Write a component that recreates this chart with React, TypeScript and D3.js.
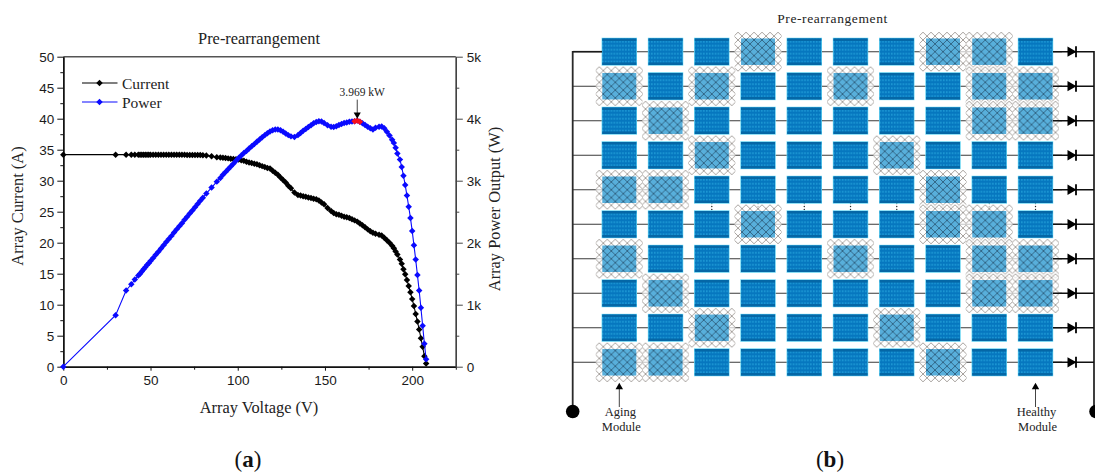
import React, { useEffect, useRef } from 'react';
import * as d3 from 'd3';

// --- panel (a) data ---
const voltage = [
  0, 30, 36, 39, 41, 43, 44, 45, 46, 47,
  48, 49, 50, 51.5, 53, 54.5, 56, 57.5, 59, 60.5,
  62, 63.5, 65, 66.5, 68, 69.5, 71, 72.5, 74, 75.5,
  77, 78.5, 80, 82, 85, 88, 90, 91.5, 93, 94.5,
  96, 97.5, 99, 100.5, 102, 103.5, 105, 106.5, 108, 109.5,
  111, 112.5, 114, 115.5, 117, 118.5, 120, 121.5, 123, 124.5,
  126, 127.5, 129, 130.5, 132.5, 134.5, 136, 137.5, 139, 140.5,
  142, 143.5, 145, 146.5, 148, 149.5, 151.5, 153.5, 155, 156.5,
  158, 159.5, 161, 162.5, 164, 165.5, 167, 168.5, 170, 171.5,
  173, 174.5, 176, 177.5, 179, 181, 182.5, 184, 185.5, 187,
  188.5, 189.5, 190.5, 191.5, 193, 194, 195, 196, 197, 198,
  199, 200, 201, 202, 203, 204, 205, 206, 207, 208,
];
const arrayCurrent = [
  34.2, 34.2, 34.2, 34.2, 34.2, 34.2, 34.2, 34.2, 34.2, 34.2,
  34.2, 34.2, 34.2, 34.2, 34.2, 34.2, 34.2, 34.2, 34.2, 34.2,
  34.2, 34.2, 34.2, 34.2, 34.2, 34.2, 34.15, 34.15, 34.15, 34.15,
  34.15, 34.15, 34.1, 34.05, 33.95, 33.8, 33.75, 33.7, 33.65, 33.6,
  33.55, 33.5, 33.45, 33.4, 33.3, 33.2, 33.05, 32.95, 32.85, 32.75,
  32.65, 32.5, 32.35, 32.2, 32.05, 31.95, 31.6, 31.3, 30.95, 30.5,
  30.1, 29.7, 29.2, 28.8, 28.1, 27.7, 27.6, 27.5, 27.4, 27.3,
  27.2, 27.1, 27.0, 26.8, 26.5, 26.2, 25.6, 25.1, 24.8, 24.6,
  24.5, 24.35, 24.2, 24.1, 24.0, 23.8, 23.6, 23.4, 23.1, 22.8,
  22.5, 22.15, 21.85, 21.6, 21.45, 21.3, 21.15, 20.8, 20.4, 20.0,
  19.5, 19.1, 18.6, 18.1, 17.3, 16.6, 15.7, 14.9, 14, 13,
  12, 10.9, 9.8, 8.5, 7.3, 6, 4.6, 3.2, 1.7, 0.5,
];
const arrayPower = [
  0, 830, 1230, 1330, 1405, 1470, 1500, 1535, 1570, 1605,
  1640, 1670, 1705, 1755, 1805, 1855, 1905, 1960, 2010, 2060,
  2110, 2165, 2215, 2265, 2315, 2370, 2420, 2470, 2520, 2570,
  2625, 2675, 2725, 2795, 2890, 2985, 3045, 3095, 3140, 3185,
  3230, 3275, 3320, 3365, 3405, 3445, 3480, 3520, 3555, 3590,
  3630, 3665, 3700, 3735, 3765, 3795, 3815, 3825, 3825, 3815,
  3790, 3760, 3735, 3715, 3705, 3735, 3770, 3805, 3835, 3865,
  3895, 3925, 3945, 3960, 3955, 3930, 3895, 3870, 3865, 3880,
  3900, 3915, 3930, 3940, 3950, 3955, 3960, 3969, 3950, 3925,
  3900, 3870, 3845, 3825, 3855, 3870, 3875, 3845, 3790, 3730,
  3660, 3610, 3530, 3440, 3340, 3220, 3080, 2930, 2760, 2580,
  2400, 2190, 1960, 1730, 1480, 1230, 950, 660, 370, 120,
];
const peakVoltages = [167, 168.5, 170];
const peakVoltage = 168.5;
const peakPower = 3969;
const peakLabel = '3.969 kW';

const voltageTicks = [0, 50, 100, 150, 200];
const voltageMinorTicks = [25, 75, 125, 175, 225];
const currentTicks = [0, 5, 10, 15, 20, 25, 30, 35, 40, 45, 50];
const currentMinorTicks = [2.5, 7.5, 12.5, 17.5, 22.5, 27.5, 32.5, 37.5, 42.5, 47.5];
const powerTicks = [0, 1000, 2000, 3000, 4000, 5000];
const powerTickLabels = ['0', '1k', '2k', '3k', '4k', '5k'];
const powerMinorTicks = [500, 1500, 2500, 3500, 4500];

// --- panel (b) data: which module columns are aged, row by row ---
const moduleColumns = [1, 2, 3, 4, 5, 6, 7, 8, 9, 10];
const moduleRows = [1, 2, 3, 4, 5, 6, 7, 8, 9, 10];
const agedColumnsByRow = [
  [4, 8, 9],
  [1, 3, 6, 9, 10],
  [2, 9, 10],
  [3, 7],
  [1, 2, 8],
  [4, 8, 9],
  [1, 6, 9, 10],
  [2, 9, 10],
  [3, 7],
  [1, 2, 8],
];
const gapDotColumns = [3, 4, 5, 6, 7, 9, 10];

const SERIF = '"Liberation Serif", serif';
const SANS = '"Liberation Sans", sans-serif';
const BLUE = '#0a0aff';

const App = () => {
  const ref = useRef<SVGSVGElement | null>(null);

  useEffect(() => {
    const svg = d3.select(ref.current);
    svg.selectAll('*').remove();

    const defs = svg.append('defs');
    const hatch = (id: string, color: string, w: number) => {
      const p = defs.append('pattern').attr('id', id).attr('patternUnits', 'userSpaceOnUse')
        .attr('width', 8).attr('height', 7.8).attr('x', 0).attr('y', 0);
      p.append('path').attr('d', 'M0,0L8,7.8M8,0L0,7.8').attr('stroke', color).attr('stroke-width', w).attr('fill', 'none');
    };
    hatch('hatchOuter', '#8f8a85', 0.8);
    hatch('hatchInner', '#1d3f58', 0.65);
    const cellPattern = defs.append('pattern').attr('id', 'cells').attr('patternUnits', 'userSpaceOnUse')
      .attr('width', 2.9).attr('height', 4);
    cellPattern.append('rect').attr('width', 2.9).attr('height', 4).attr('fill', '#0677bf');
    cellPattern.append('rect').attr('y', 1.6).attr('width', 1.6).attr('height', 0.8).attr('fill', '#3cc4f2');

    // --- Panel (a) ---
    const x = d3.scaleLinear().domain([0, 225]).range([63.3, 455.8]);
    const yCurrent = d3.scaleLinear().domain([0, 50]).range([366.7, 56.7]);
    const yPower = d3.scaleLinear().domain([0, 5000]).range([366.7, 56.7]);
    const chart = svg.append('g');

    const styleAxis = (g: any, color: string) => {
      g.selectAll('path').attr('stroke', color).attr('stroke-width', 1.4);
      g.selectAll('line').attr('stroke', color).attr('stroke-width', 1);
      g.selectAll('text').attr('font-family', SANS).attr('font-size', 13.5).attr('fill', '#1a1a1a');
    };

    // top border
    chart.append('line').attr('x1', x(0)).attr('x2', x(225))
      .attr('y1', yCurrent(50)).attr('y2', yCurrent(50))
      .attr('stroke', '#555').attr('stroke-width', 1.6);

    chart.append('g').attr('transform', `translate(0,${yCurrent(0)})`)
      .call(d3.axisBottom(x).tickValues(voltageMinorTicks).tickSize(3).tickFormat(() => '').tickSizeOuter(0))
      .call(styleAxis, '#111');
    chart.append('g').attr('transform', `translate(0,${yCurrent(0)})`)
      .call(d3.axisBottom(x).tickValues(voltageTicks).tickSize(4).tickPadding(5).tickSizeOuter(0))
      .call(styleAxis, '#111');

    chart.append('g').attr('transform', `translate(${x(0)},0)`)
      .call(d3.axisLeft(yCurrent).tickValues(currentMinorTicks).tickSize(3).tickFormat(() => '').tickSizeOuter(0))
      .call(styleAxis, '#111');
    chart.append('g').attr('transform', `translate(${x(0)},0)`)
      .call(d3.axisLeft(yCurrent).tickValues(currentTicks).tickSize(6).tickPadding(3).tickSizeOuter(0))
      .call(styleAxis, '#111');

    chart.append('g').attr('transform', `translate(${x(225)},0)`)
      .call(d3.axisRight(yPower).tickValues(powerMinorTicks).tickSize(3.5).tickFormat(() => '').tickSizeOuter(0))
      .call(styleAxis, '#444');
    chart.append('g').attr('transform', `translate(${x(225)},0)`)
      .call(d3.axisRight(yPower).tickValues(powerTicks).tickSize(7).tickPadding(4).tickSizeOuter(0)
        .tickFormat((_, i) => powerTickLabels[i]))
      .call(styleAxis, '#444');

    const diamond = d3.symbol(d3.symbolSquare, 21);
    const drawSeries = (values: number[], yScale: any, color: string) => {
      const pts = voltage.map((v, i) => [x(v), yScale(values[i])]);
      chart.append('path').attr('d', d3.line()(pts as any)).attr('fill', 'none')
        .attr('stroke', color).attr('stroke-width', 1.1);
      chart.append('g').selectAll('path').data(pts).join('path')
        .attr('d', diamond())
        .attr('transform', d => `translate(${d[0]},${d[1]}) rotate(45)`)
        .attr('fill', color);
    };
    drawSeries(arrayCurrent, yCurrent, '#000');
    drawSeries(arrayPower, yPower, BLUE);

    // peak marker
    chart.append('g').selectAll('path').data(peakVoltages).join('path')
      .attr('d', diamond())
      .attr('transform', v => `translate(${x(v)},${yPower(arrayPower[voltage.indexOf(v)])}) rotate(45)`)
      .attr('fill', '#f5101c');

    const arrowHead = d3.symbol(d3.symbolTriangle, 22);
    const px = x(peakVoltage);
    const py = yPower(peakPower);
    chart.append('line').attr('x1', px).attr('x2', px).attr('y1', py - 21).attr('y2', py - 6)
      .attr('stroke', '#444').attr('stroke-width', 1);
    chart.append('path').attr('d', arrowHead())
      .attr('transform', `translate(${px},${py - 6}) rotate(180)`).attr('fill', '#000');
    chart.append('text').attr('x', px + 5).attr('y', py - 25).attr('text-anchor', 'middle')
      .attr('font-family', SERIF).attr('font-size', 11.5).attr('fill', '#222').text(peakLabel);

    const legend = [['Current', '#000', 83], ['Power', BLUE, 102]] as [string, string, number][];
    legend.forEach(([name, color, ly]) => {
      chart.append('line').attr('x1', 82).attr('x2', 117.5).attr('y1', ly).attr('y2', ly)
        .attr('stroke', color).attr('stroke-width', 1.1);
      chart.append('path').attr('d', diamond()).attr('transform', `translate(99.5,${ly}) rotate(45)`).attr('fill', color);
      chart.append('text').attr('x', 122).attr('y', ly + 6).attr('font-family', SERIF)
        .attr('font-size', 15.5).attr('fill', '#222').text(name);
    });

    const label = (txt: string, lx: number, ly: number, rot = 0, size = 16.4, parent: any = chart) =>
      parent.append('text').attr('transform', `translate(${lx},${ly}) rotate(${rot})`)
        .attr('text-anchor', 'middle').attr('font-family', SERIF).attr('font-size', size)
        .attr('fill', '#222').text(txt);
    label('Pre-rearrangement', 259, 44);
    label('Array Voltage (V)', 259, 413);
    label('Array Current (A)', 23, 206, -90);
    label('Array Power Output (W)', 500, 209, -90);

    const panelLetter = (letter: string, lx: number) => {
      const t = svg.append('text').attr('x', lx).attr('y', 467).attr('text-anchor', 'middle')
        .attr('font-family', SERIF).attr('font-size', 23).attr('fill', '#111');
      t.append('tspan').text('(');
      t.append('tspan').attr('font-weight', 'bold').text(letter);
      t.append('tspan').text(')');
    };
    panelLetter('a', 248);
    panelLetter('b', 830);

    // --- Panel (b) ---
    const col = d3.scalePoint<number>().domain(moduleColumns).range([619.3, 1035.5]);
    const row = d3.scalePoint<number>().domain(moduleRows).range([51.7, 362.3]);
    const grid = svg.append('g');
    const busLeft = 572.7;
    const busRight = 1094;
    const busBottom = 411.5;

    moduleRows.forEach(r => {
      grid.append('line').attr('x1', busLeft).attr('x2', 1062).attr('y1', row(r)).attr('y2', row(r))
        .attr('stroke', '#3a3a3a').attr('stroke-width', 1.1);
    });

    gapDotColumns.forEach(c => {
      [203.5, 206.5, 209.5].forEach(dy => {
        grid.append('circle').attr('cx', col(c)).attr('cy', dy).attr('r', 0.7).attr('fill', '#222');
      });
    });

    const cells = moduleRows.flatMap((r, i) =>
      moduleColumns.map(c => ({ r, c, aged: agedColumnsByRow[i].includes(c) })));
    const modW = 34;
    const modH = 26.5;

    const mods = grid.append('g').selectAll('g').data(cells).join('g')
      .attr('transform', d => `translate(${col(d.c)},${row(d.r)})`);

    // hatching sits behind the light module
    mods.filter(d => d.aged).each(function () {
      const m = d3.select(this);
      m.append('rect').attr('x', -23.5).attr('y', -19.5).attr('width', 47).attr('height', 39)
        .attr('fill', '#fff').attr('opacity', 0.7);
      m.append('rect').attr('x', -23.5).attr('y', -19.5).attr('width', 47).attr('height', 39)
        .attr('fill', 'url(#hatchOuter)');
      m.append('rect').attr('x', -modW / 2).attr('y', -modH / 2).attr('width', modW).attr('height', modH)
        .attr('fill', '#58afdb');
      m.append('rect').attr('x', -modW / 2).attr('y', -modH / 2).attr('width', modW).attr('height', modH)
        .attr('fill', 'url(#hatchInner)');
    });

    mods.filter(d => !d.aged).each(function () {
      const m = d3.select(this);
      m.append('rect').attr('x', -modW / 2 - 0.7).attr('y', -modH / 2 - 0.7)
        .attr('width', modW + 1.4).attr('height', modH + 1.4).attr('fill', '#63d4f2');
      m.append('rect').attr('x', -modW / 2).attr('y', -modH / 2).attr('width', modW).attr('height', modH)
        .attr('fill', 'url(#cells)');
      m.append('rect').attr('x', -modW / 2).attr('y', -modH / 2).attr('width', modW).attr('height', 2.5)
        .attr('fill', '#0567a6');
      m.append('rect').attr('x', -modW / 2).attr('y', modH / 2 - 2.5).attr('width', modW).attr('height', 2.5)
        .attr('fill', '#0567a6');
    });

    // bus bars
    grid.append('line').attr('x1', busLeft).attr('x2', busLeft).attr('y1', row(1) - 0.7).attr('y2', busBottom)
      .attr('stroke', '#2a2a2a').attr('stroke-width', 1.8);
    grid.append('line').attr('x1', busLeft).attr('x2', 602).attr('y1', row(1)).attr('y2', row(1))
      .attr('stroke', '#1a1a1a').attr('stroke-width', 1.6);
    grid.append('circle').attr('cx', busLeft).attr('cy', busBottom).attr('r', 6.8).attr('fill', '#000');
    grid.append('line').attr('x1', busRight).attr('x2', busRight).attr('y1', row(1) - 0.7).attr('y2', busBottom)
      .attr('stroke', '#2a2a2a').attr('stroke-width', 1.8);
    grid.append('circle').attr('cx', busRight + 2).attr('cy', busBottom).attr('r', 6.8).attr('fill', '#000');

    // diodes on each string
    const diodeHead = d3.symbol(d3.symbolTriangle, 46);
    moduleRows.forEach(r => {
      const y = row(r);
      grid.append('line').attr('x1', 1053).attr('x2', busRight).attr('y1', y).attr('y2', y)
        .attr('stroke', '#111').attr('stroke-width', 1.5);
      grid.append('path').attr('d', diodeHead())
        .attr('transform', `translate(1070.5,${y}) rotate(90)`).attr('fill', '#000');
      grid.append('line').attr('x1', 1076).attr('x2', 1076).attr('y1', y - 5.5).attr('y2', y + 5.5)
        .attr('stroke', '#000').attr('stroke-width', 1.8);
    });

    // annotations
    label('Pre-rearrangement', 832.5, 23, 0, 13.5).attr('letter-spacing', 0.6);
    [[col(1) as number, 'Aging', 'Module'], [col(10) as number, 'Healthy', 'Module']].forEach((d: any) => {
      const ax = d[0];
      grid.append('line').attr('x1', ax).attr('x2', ax).attr('y1', 407).attr('y2', 388)
        .attr('stroke', '#444').attr('stroke-width', 1);
      grid.append('path').attr('d', d3.symbol(d3.symbolTriangle, 24)())
        .attr('transform', `translate(${ax},387)`).attr('fill', '#000');
      label(d[1], ax + 1, 416, 0, 12.5);
      label(d[2], ax + 2, 431, 0, 12.5);
    });
  }, []);

  return (
    <svg
      ref={ref}
      width={1095}
      height={472}
      style={{ position: 'absolute', left: 0, top: 0, background: '#fff' }}
    />
  );
};

export default App;
